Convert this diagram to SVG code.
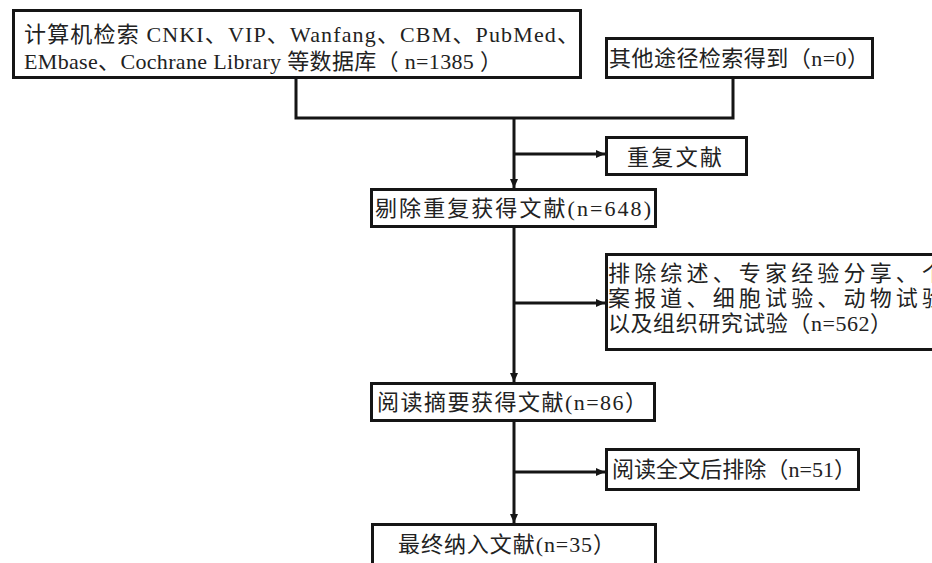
<svg xmlns="http://www.w3.org/2000/svg" width="932" height="563" viewBox="0 0 932 563">
<style>
.box{fill:#fff;stroke:#151515;stroke-width:3}
.t{font-family:"Liberation Serif","Times New Roman","DejaVu Serif","Noto Sans CJK SC",serif;font-size:22px;fill:#222}
.l{font-family:"Liberation Serif","Times New Roman",serif}
.c{fill:none;stroke:#151515;stroke-width:3}
</style>
<defs>
<marker id="ah" markerUnits="userSpaceOnUse" markerWidth="10" markerHeight="10" refX="9" refY="5" orient="auto">
<path d="M0,1 L9,5 L0,9 Z" fill="#151515"/>
</marker>
</defs>
<rect width="932" height="563" fill="#fff"/>
<g id="connectors">
<path class="c" d="M296,79 V118 H733 V79"/>
<path class="c" d="M514,118 V188" marker-end="url(#ah)"/>
<path class="c" d="M514,154 H605" marker-end="url(#ah)"/>
<path class="c" d="M514,228 V382" marker-end="url(#ah)"/>
<path class="c" d="M514,303 H605" marker-end="url(#ah)"/>
<path class="c" d="M514,422 V523" marker-end="url(#ah)"/>
<path class="c" d="M514,472 H605" marker-end="url(#ah)"/>
</g>
<g id="n1">
<rect class="box" x="13.5" y="10.5" width="567" height="67"/>
<text class="t" x="24" y="42" textLength="555" lengthAdjust="spacing">计算机检索 <tspan class="l">CNKI</tspan>、<tspan class="l">VIP</tspan>、<tspan class="l">Wanfang</tspan>、<tspan class="l">CBM</tspan>、<tspan class="l">PubMed</tspan>、</text>
<text class="t" x="24" y="69" textLength="478" lengthAdjust="spacing"><tspan class="l">EMbase</tspan>、<tspan class="l">Cochrane Library</tspan> 等数据库（ <tspan class="l">n=1385</tspan> ）</text>
</g>
<g id="n2">
<rect class="box" x="606.5" y="38.5" width="266" height="39"/>
<text class="t" x="609" y="66" textLength="260" lengthAdjust="spacing">其他途径检索得到（<tspan class="l">n=0</tspan>）</text>
</g>
<g id="n3">
<rect class="box" x="606.5" y="137.5" width="140" height="37"/>
<text class="t" x="627" y="165" textLength="95" lengthAdjust="spacing">重复文献</text>
</g>
<g id="n4">
<rect class="box" x="371.5" y="189.5" width="284" height="37"/>
<text class="t" x="375" y="216" textLength="276" lengthAdjust="spacing">剔除重复获得文献<tspan class="l">(n=648)</tspan></text>
</g>
<g id="n5">
<rect class="box" x="606.5" y="254.5" width="345" height="95"/>
<text class="t" x="608" y="281" textLength="336" lengthAdjust="spacing">排除综述、专家经验分享、个</text>
<text class="t" x="608" y="306" textLength="336" lengthAdjust="spacing">案报道、细胞试验、动物试验</text>
<text class="t" x="608" y="331" textLength="284" lengthAdjust="spacing">以及组织研究试验（<tspan class="l">n=562</tspan>）</text>
</g>
<g id="n6">
<rect class="box" x="371.5" y="383.5" width="283" height="37"/>
<text class="t" x="377" y="410" textLength="270" lengthAdjust="spacing">阅读摘要获得文献<tspan class="l">(n=86</tspan>）</text>
</g>
<g id="n7">
<rect class="box" x="606.5" y="449.5" width="252" height="40"/>
<text class="t" x="612" y="477" textLength="244" lengthAdjust="spacing">阅读全文后排除（<tspan class="l">n=51</tspan>）</text>
</g>
<g id="n8">
<rect class="box" x="372.5" y="524.5" width="283" height="45"/>
<text class="t" x="398" y="552" textLength="217" lengthAdjust="spacing">最终纳入文献<tspan class="l">(n=35</tspan>）</text>
</g>
</svg>
